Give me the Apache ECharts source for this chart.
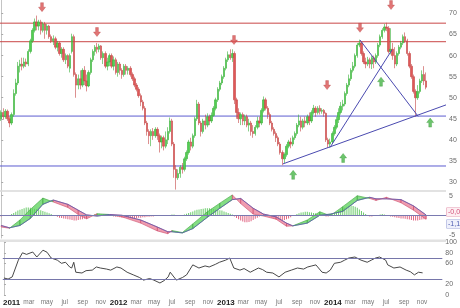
<!DOCTYPE html>
<html><head><meta charset="utf-8">
<script src="https://cdn.jsdelivr.net/npm/echarts@6/dist/echarts.min.js"></script>
<style>html,body{margin:0;padding:0;background:#fff}#c{width:460px;height:308px}</style>
</head><body><div id="c"></div>
<script>
// first weekly candle (Monday)
const startDate = '2010-12-06';
// weekly candles [open, close, low, high]
const candlesA = [
[45,46.5,44.5,47],[46.5,45.5,44.8,47.5],[45.5,46.8,45,47.3],[46.8,45,44.5,47.2],[45,44,43,45.5],
[44,46,43.5,46.5],[46,51,45.5,52],[51,53.5,50.5,54.5],[53.5,57.5,53,58.5],[57.5,58,56,59],
[58,57.5,56.5,59.5],[57.5,58.5,57,59.5],[58.5,58,57.3,59.3],[58,61,57.5,61.5],[61,63.5,60.5,64],
[63.5,66,63,66.5],[66,68,65.5,68.8],[68,67,66,69.5],[67,68,66,68.5],[68,66,65,68.5],
[66,67.5,65.5,68],[67.5,66,64,68],[66,67,65,67.5],[67,64.5,64,67.3],[64.5,63.5,63,65],
[63.5,64,62.5,64.8],[64,62,61.5,64.5],[62,63,61,63.5],[63,60.5,60,63.3],[60.5,61.5,59.5,62],
[61.5,59,58.5,62],[59,60,58,60.5],[60,57.5,57,60.3],[57,60,56,60.5],[61,64.5,60.5,65.2],
[64.5,55.5,55,65],[55.5,53,50,56],[53,54.5,52,55.5],[54.5,53,52,56.5],[53,56.5,52.5,57],
[56.5,54,53,57.5],[54,52.8,51.5,55.5],[52.8,56,52.5,56.5],[56,59,55.5,59.5],[59,61,58.5,61.5],
[61,62,60,62.5],[62,61.5,60.5,63],[61.5,62.3,60.8,62.8],[62.3,59.5,59,62.5],[59.5,60.5,58,61],
[60.5,57.5,57,61]];
const candlesB = [
[57.5,58.5,56.5,59.5],[58.5,60,57.5,60.5],[60,57.5,57,60.5],[57.5,59,56.5,59.8],[59,56,55.5,59.5],
[56,58,55,58.5],[58,56.5,55.5,58.5],[56.5,55.5,54.5,57],[55.5,57.5,55,58],[57.5,56.5,55.5,58],
[56.5,57,55.5,57.5],[57,55.5,55,57.5],[55.5,54.5,54,56],[54.5,53,52.5,55],[53,52,51.5,53.5],
[52,50.5,50,52.5],[50.5,49,48,51],[49,47.5,47,49.5],[47.5,44,43.5,48],[44,42,41,44.5],
[42,41,39,42.5],[41,42,38.5,42.5],[42,41,40,42.8],[41,42.5,40.5,43],[42.5,41,40,43],
[41,39.5,37,41.5],[39.5,40.5,38,41],[40.5,38.5,37.5,41],[38.5,40,38,42],[40,42,39,43],
[42,44.5,41.5,45.3],[44.5,39,38.5,45],[39,33,31,39.5],[33,31,28.2,34],[31,32,30.5,33],
[32,33.5,31,34],[33.5,33,32,34.5],[33,35.5,32.5,36],[35.5,37,35,37.5],[37,39.5,36.5,40],
[39.5,38.5,37.5,40.5],[38.5,41,38,41.5],[41,45,40.5,45.5],[45,48.5,44.5,49.5],[48.5,44,43.5,49],
[44,42,40.8,44.5],[42,44.5,41.5,45],[44.5,43.5,42.5,46],[43.5,45.5,43,46.3],[45.5,44.5,43.5,46],
[44.5,45.8,44,46.5]];
const candlesC = [
[45.8,47.5,45.5,48],[47.5,49.5,47,50],[49.5,52,49,52.5],[52,53.5,51.5,54],[53.5,55,53,55.5],
[55,57,54.5,57.5],[57,59,56.5,59.5],[59,60.2,58.5,61],[60.2,59.5,59,61.5],[59.5,60.5,58.5,61.5],
[60.5,49.5,48.5,61],[49.5,46.5,45,50],[46.5,45,44,47.5],[45,46,43.5,46.5],[46,44.5,43.5,46.5],
[44.5,45.5,43.5,46],[45.5,43.5,43,46],[43.5,44,42,45],[44,42,41,44.5],[42,41.5,40.5,43.5],
[41.5,43,41,43.5],[43,44.5,42.5,45.5],[44.5,44,43,45.5],[44,47,43.5,47.5],[47,49.5,46.5,50.3],
[49.5,47.5,47,50],[47.5,46,45,48],[46,44,43.5,46.5],[44,42.5,42,44.5],[42.5,41.5,41,43],
[41.5,40.5,39.5,42],[40.5,39,38.5,41],[39,37,36.5,39.5],[37,35.5,34,37.5],[35.5,36.5,34.5,37],
[36.5,38.5,36,39],[38.5,39.5,38,40],[39.5,39,38,40.5],[39,40.5,38.5,41],[40.5,41.5,40,42],
[41.5,43.5,41,44],[43.5,44.5,43,46],[44.5,43,42,45.5],[43,44.5,42.5,45],[44.5,44,43,45.5],
[44,45.5,43.5,46],[45.5,44.5,43.5,46.5],[44.5,46.5,44,47],[46.5,47.5,46,48.3],[47.5,46.5,45.5,48],
[46.5,47.5,46,48]];
const candlesD = [
[47.5,46.8,46,48.2],[46.8,47,46.2,47.5],[47,46.3,45.5,47.3],[46.3,40,39.5,46.5],[40,39,38.1,40.5],
[39,39.5,38.2,40.3],[39.5,41.5,39,42],[41.5,43,41,43.5],[43,44.8,42.5,45.5],[44.8,46.5,44,47.5],
[46.5,48,46,49],[48,48.5,47,49.5],[48.5,51,48,51.5],[51,53,50.5,53.5],[53,54.5,52.5,55.5],
[54.5,56.5,54,57],[56.5,57.5,56,58.5],[57.5,60,57,60.5],[60,62.5,59.5,63],[62.5,63,62,63.8],
[63,60.5,60,63.3],[60.5,58.5,58,61],[58.5,58,57,59.5],[58,59,57.5,59.7],[59,58,57,59.5],
[58,59.5,56.8,60],[59.5,58.5,57,60],[58.5,60,58,60.5],[60,62.5,59.5,63],[62.5,64.5,62,65],
[64.5,66,64,66.5],[66,66.8,65.5,67.5],[66.8,66.5,65.8,67.8],[66.5,61,60.5,67],[61,61.5,60.3,66.5],
[61.5,60,59,63],[60,58,57,62],[58,60.5,57.5,61],[60.5,62,60,62.5],[62,63,61.5,63.5],
[63,64.5,62.5,65],[64.5,63.5,63,65.5],[63.5,60.5,60,64],[60.5,57.5,57,61],[57.5,55,54.5,58],
[55,51.5,51,55.5],[51.5,50,45.5,52],[50,51.5,49.5,53],[51.5,54,51,54.5],[54,55.5,53.5,56.5],
[55.5,54,53,57.5],[54,52.5,52,56]];

// horizontal levels
const resistanceLevels = [67.7, 63.3];
const supportLevels = [45.65, 33.8];
// trend lines [[week, price],[week, price]]
const trendLines = [
  [[135.3,34.3],[213.6,48.3]],
  [[157.9,38.2],[187.7,61.4]],
  [[172.3,63.7],[200.2,45.6]]
];
// signal arrows [week, price]
const sellArrows = [[19.6,71.5],[46,65.6],[111.8,63.7],[156.5,53],[172.3,66.6],[187.2,72]];
const buyArrows = [[140.2,31.7],[164.2,35.7],[182.4,53.8],[206,44.1]];

// MACD [week, macd, signal]
const macdRows = [
[0,-3.0,-2.6],[4,-3.3,-3.2],[9,-1.2,-2.6],[14,1.5,-0.8],[20,4.4,2.8],[25,3.4,3.9],[32,2.0,2.8],
[37,0.2,1.3],[41,-0.9,0.1],[46,0.4,-0.2],[52,0.2,0.2],[58,-0.4,0.0],[67,-2.0,-1.2],[75,-4.0,-3.0],
[80,-4.7,-4.2],[82,-3.9,-4.2],[87,-4.4,-4.5],[92,-2.2,-3.4],[99,0.9,-0.5],[105,3.1,1.8],[111,5.2,4.0],
[115,3.0,4.3],[121,0.3,1.8],[126,-0.2,0.3],[132,-1.0,-0.4],[137,-2.8,-2.0],[140,-2.7,-2.7],[147,-1.2,-2.0],
[153,0.9,0.0],[158,-0.1,0.3],[164,2.2,1.0],[171,5.0,3.8],[177,4.3,4.6],[180,3.8,4.2],[185,4.6,4.2],
[192,3.2,4.0],[198,1.3,2.4],[204,-1.0,0.1]];
// MACD histogram, one per week
const macdHist = [
-0.3,-0.2,-0.1,0,0.1,
0.3,0.6,0.9,1.2,1.4,1.6,1.8,2.0,2.0,1.9,1.8,1.7,1.6,1.5,1.3,1.1,0.9,0.7,0.5,0.3,0.1,
-0.2,-0.4,-0.6,-0.7,-0.8,-0.9,-1.0,-1.1,-1.2,-1.3,-1.3,-1.2,-1.1,-1.0,-0.8,-0.6,-0.4,-0.2,0.1,
0.3,0.4,0.4,0.3,0.2,0.1,0,-0.1,
-0.2,-0.3,-0.4,-0.4,-0.5,-0.6,-0.7,-0.7,-0.8,-0.8,-0.8,-0.7,-0.7,-0.6,-0.6,-0.5,-0.5,-0.4,-0.4,-0.3,-0.3,-0.2,-0.2,-0.1,-0.1,0,0,0,
0.1,0.2,0.2,0.1,0,0,0.1,0.2,
0.4,0.6,0.8,1.0,1.2,1.4,1.5,1.6,1.7,1.8,1.8,1.8,1.7,1.6,1.5,1.4,1.3,1.2,1.0,0.8,0.6,0.4,0.2,
-0.3,-0.7,-1.0,-1.3,-1.6,-1.8,-1.8,-1.7,-1.5,-1.2,-0.9,-0.6,-0.3,
-0.1,0,-0.1,-0.2,
-0.4,-0.6,-0.8,-1.0,-1.2,-1.3,-1.3,-1.2,-1.0,-0.8,-0.5,-0.2,
0.1,0.3,0.5,0.7,0.8,0.9,0.9,0.8,0.7,0.6,0.5,0.3,0.1,
-0.1,-0.2,-0.3,-0.3,-0.1,
0.2,0.5,0.8,1.1,1.4,1.7,2.0,2.2,2.4,2.5,2.4,2.2,1.9,1.5,1.1,0.7,0.3,
-0.2,-0.3,-0.3,-0.2,-0.1,0.1,0.2,0.3,0.2,
-0.1,-0.2,-0.3,-0.4,-0.5,-0.6,-0.7,-0.8,-0.8,-0.9,-1.0,-1.1,-1.2,-1.3,-1.3,-1.3,-1.2,-1.1,-1.0,-1.0];
const macdBoxes = ['-0,03','-1,17'];

// RSI [week, value]
const rsiPoints = [
[0,32],[2,30],[4,34],[7,66],[9,80],[11,77],[14,81.5],[16,72],[19,85],[21,81],[23,70],[26,66],[28,60],[30,62],[32,53],[33,51],
[34,62],[35,43],[38,41.5],[40,46],[43,47],[45,53],[47,51],[50,49],[52,47],[55,53],[57,51],[60,43],[63,38],[66,33],[68,28],
[71,31],[73,28],[76,22.5],[78,27],[80,34],[81,43],[84,28],[87,33],[89,38],[92,57],[95,51],[98,55],[100,53],[103,58],[105,62],
[108,66],[110,70],[112,51],[115,47],[117,50],[120,43],[122,47],[124,51],[126,48],[128,43],[131,41.5],[134,34],[137,43],
[140,47],[143,51],[146,49],[148,53],[150,55],[152,57],[155,43],[157,41.5],[159,47],[161,60],[164,62],[166,66],[168,70],
[171,72],[174,66],[177,62],[179,66],[181,70],[183,72],[186,66],[187,57],[190,51],[193,53],[196,47],[198,44],[200,38],[202,43],[204,41.8]];
const rsiLevels = [70, 30];

// axis ticks
const priceTicks = [30,35,40,45,50,55,60,65,70];
const macdTicks = [5,-5];
const rsiTicks = [0,20,60,80,100];
const tickMonths = ['2011-01','2011-03','2011-05','2011-07','2011-09','2011-11',
'2012-01','2012-03','2012-05','2012-07','2012-09','2012-11',
'2013-01','2013-03','2013-05','2013-07','2013-09','2013-11',
'2014-01','2014-03','2014-05','2014-07','2014-09','2014-11'];
const tickLabels = ['2011','mar','may','jul','sep','nov','2012','mar','may','jul','sep','nov',
'2013','mar','may','jul','sep','nov','2014','mar','may','jul','sep','nov'];

// ---------- build ----------
const WEEK = 7*86400000;
const t0 = Date.parse(startDate);
const candles = [].concat(candlesA, candlesB, candlesC, candlesD);
const candleData = candles.map((c,i)=>[i, c[0], c[1], c[2], c[3]]);
const tickPos = tickMonths.map(m => (Date.parse(m+'-01') - t0)/WEEK);
const xMin = -0.58, xMax = 213.6;
const FONT = 'Liberation Sans, Arial, sans-serif';
const lastClose = candles[candles.length-1][1];
const lastRsi = rsiPoints[rsiPoints.length-1][1];
const comma = v => String(v).replace('.', ',');

function xAxis(idx, show){
  const a = {type:'value', gridIndex:idx, min:xMin, max:xMax, splitLine:{show:false},
    axisLine:{show:false}, axisTick:{show:false}, axisLabel:{show:false}};
  if (show){
    a.axisLabel = {show:true, customValues: tickPos, margin:4, fontFamily:FONT,
      formatter: v => { const k = tickPos.findIndex(p=>Math.abs(p-v)<1e-6); const t = tickLabels[k]||'';
        return /^\d+$/.test(t) ? '{y|'+t+'}' : '{m|'+t+'}'; },
      rich:{y:{fontSize:8, fontWeight:'bold', color:'#222', fontFamily:FONT}, m:{fontSize:6.5, color:'#777', fontFamily:FONT}}};
  }
  return a;
}
function yAxis(idx, min, max, ticks){
  return {type:'value', gridIndex:idx, position:'right', min:min, max:max, splitLine:{show:false},
    axisLine:{show:true, lineStyle:{color:'#c4c4c4', width:1}},
    axisTick:{show:true, length:2, customValues:ticks, lineStyle:{color:'#aaa'}},
    axisLabel:{customValues:ticks, fontSize:7, color:'#6a6a6a', margin:3, fontFamily:FONT}};
}

const arrowDown = 'path://M3,0L7,0L7,5L10,5L5,10L0,5L3,5Z';
const arrowUp = 'path://M5,0L10,5L7,5L7,10L3,10L3,5L0,5Z';

const series = [];
// horizontal support / resistance levels across the full axis range
function levelSeries(v, color){
  return {type:'line', xAxisIndex:0, yAxisIndex:0, data:[[xMin, v],[xMax, v]], symbol:'none', silent:true, z:2,
    itemStyle:{color:color}, lineStyle:{color:color, width:1, type:'solid'}};
}
resistanceLevels.forEach(v=>series.push(levelSeries(v,'#c94646')));
supportLevels.forEach(v=>series.push(levelSeries(v,'#5c5cd0')));

series.push({
  type:'candlestick', xAxisIndex:0, yAxisIndex:0, data:candleData, barWidth:1.9, z:3,
  itemStyle:{color:'#52cf52', color0:'#e05858', borderColor:'#38b038', borderColor0:'#c44444', borderWidth:0.6},
  markLine:{silent:true, symbol:'none', animation:false,
    data:[{yAxis:lastClose, lineStyle:{opacity:0}, label:{show:true, position:'end', distance:1, formatter:comma(lastClose),
        backgroundColor:'#f2cd48', color:'#333', fontSize:7, padding:[1,1,0,1], fontFamily:FONT}}]
  }
});
trendLines.forEach(tl=>{
  series.push({type:'line', xAxisIndex:0, yAxisIndex:0, data:tl, symbol:'none', silent:true, z:4,
    itemStyle:{color:'#4a4ab0'}, lineStyle:{color:'#4a4ab0', width:1}});
});
series.push({type:'scatter', xAxisIndex:0, yAxisIndex:0, data:sellArrows, symbol:arrowDown, symbolSize:[7,9], z:5,
  itemStyle:{color:'#da5252', borderColor:'#b03a3a', borderWidth:0.4}});
series.push({type:'scatter', xAxisIndex:0, yAxisIndex:0, data:buyArrows, symbol:arrowUp, symbolSize:[7,9], z:5,
  itemStyle:{color:'#47b547', borderColor:'#2e8e2e', borderWidth:0.4}});

// MACD panel
series.push({type:'bar', xAxisIndex:1, yAxisIndex:1, barWidth:1, z:1,
  data: macdHist.map((v,i)=>({value:[i,v], itemStyle:{color: v>=0 ? '#6ccc6c' : '#e06684'}})),
  markLine:{silent:true, symbol:'none', animation:false, data:[{yAxis:0, lineStyle:{color:'#7a7ab0', width:1, type:'solid'}, label:{show:false}}]}
});
series.push({type:'custom', xAxisIndex:1, yAxisIndex:1, z:2, data: macdRows, encode:{x:0, y:[1,2]},
  renderItem: function(params, api){
    const k = params.dataIndex;
    if (k >= macdRows.length-1) return null;
    const a = macdRows[k], b = macdRows[k+1];
    const up = (a[1]+b[1]) > (a[2]+b[2]);
    return {type:'polygon', shape:{points:[api.coord([a[0],a[1]]), api.coord([b[0],b[1]]), api.coord([b[0],b[2]]), api.coord([a[0],a[2]])]},
      style:{fill: up ? 'rgba(96,212,96,0.78)' : 'rgba(234,128,152,0.78)', stroke: up ? '#3ea53e' : '#cc4a6a', lineWidth:0.6}};
  }
});
series.push({type:'line', xAxisIndex:1, yAxisIndex:1, data: macdRows.map(r=>[r[0], r[2]]), symbol:'none', z:3,
  lineStyle:{color:'#5a5ab4', width:0.8}});

// RSI panel
series.push({type:'line', xAxisIndex:2, yAxisIndex:2, data: rsiPoints, symbol:'none', z:3,
  lineStyle:{color:'#333', width:0.9},
  markLine:{silent:true, symbol:'none', animation:false,
    data: rsiLevels.map(v=>({yAxis:v, lineStyle:{color:'#7676aa', width:1, type:'solid'}, label:{show:false}}))
      .concat([{yAxis:lastRsi, lineStyle:{opacity:0}, label:{show:true, position:'end', distance:1, formatter:comma(lastRsi),
        backgroundColor:'#fff', borderColor:'#aaa', borderWidth:0.6, color:'#444', fontSize:7, padding:[1,1,0,1], fontFamily:FONT}}])
  }
});

const chart = echarts.init(document.getElementById('c'));
chart.setOption({
  animation:false,
  backgroundColor:'#fff',
  grid:[
    {left:0, right:14, top:0, height:190},
    {left:0, right:14, top:192, height:46},
    {left:0, right:14, top:242.3, height:52.5}
  ],
  xAxis:[xAxis(0,false), xAxis(1,false), xAxis(2,true)],
  yAxis:[yAxis(0,28.1,73.2,priceTicks), yAxis(1,-5.8,5.95,macdTicks), yAxis(2,0,100,rsiTicks)],
  graphic:[
    {type:'rect', shape:{x:0,y:190,width:446,height:2}, style:{fill:'#e2e2e2'}, silent:true},
    {type:'rect', shape:{x:0,y:239.5,width:446,height:2.5}, style:{fill:'#e2e2e2'}, silent:true},
    {type:'text', x:447, y:208, style:{text:macdBoxes[0], fontSize:7, fontFamily:FONT, fill:'#d25079',
      backgroundColor:'#fdeef2', borderColor:'#e496ad', borderWidth:0.6, padding:[1,1,0,1]}},
    {type:'text', x:447, y:220, style:{text:macdBoxes[1], fontSize:7, fontFamily:FONT, fill:'#4d5cb0',
      backgroundColor:'#eef0fb', borderColor:'#9aa2d8', borderWidth:0.6, padding:[1,1,0,1]}}
  ],
  series: series
});
</script>
</body></html>
